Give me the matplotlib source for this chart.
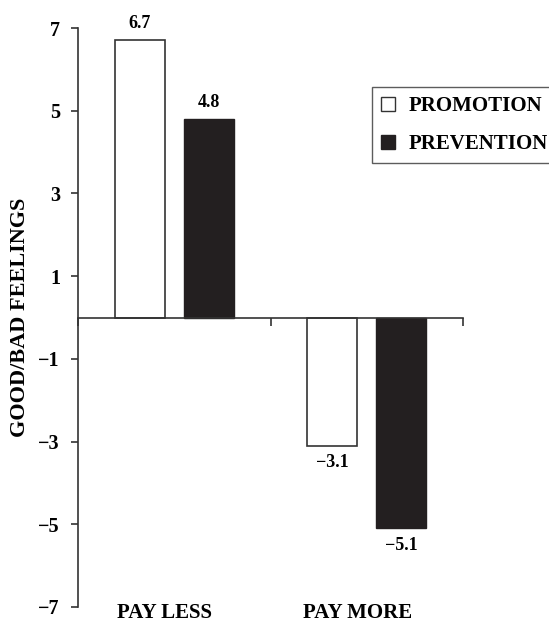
import matplotlib
matplotlib.use("Agg")
import matplotlib.pyplot as plt
from matplotlib.patches import Patch
import numpy as np

categories = ["PAY LESS", "PAY MORE"]
series_names = ["PROMOTION", "PREVENTION"]
promotion = [6.7, -3.1]
prevention = [4.8, -5.1]
yticks = [7, 5, 3, 1, -1, -3, -5, -7]
ylabel = "GOOD/BAD FEELINGS"

plt.rcParams['font.family'] = ['Liberation Serif', 'DejaVu Serif']
plt.rcParams['font.weight'] = 'bold'

fig = plt.figure(figsize=(5.49, 6.22), dpi=100)
ax = fig.add_axes([78/549, 1-607/622, (463-78)/549, (607-28)/622])

x = np.arange(len(categories))
w = 0.26
dark = '#231f20'
edge = '#333333'
b1 = ax.bar(x - 0.18, promotion, w, color='white', edgecolor=edge, linewidth=1.2)
b2 = ax.bar(x + 0.18, prevention, w, color=dark, edgecolor=dark, linewidth=1.0)

def fmt(v):
    s = f"{abs(v):.1f}"
    return ("\u2212" + s) if v < 0 else s

for bars, vals in ((b1, promotion), (b2, prevention)):
    for rect, v in zip(bars, vals):
        cx = rect.get_x() + rect.get_width() / 2
        if v >= 0:
            ax.annotate(fmt(v), (cx, v), xytext=(0, 6), textcoords='offset points',
                        ha='center', va='bottom', fontsize=13, fontweight='bold')
        else:
            ax.annotate(fmt(v), (cx, v), xytext=(0, -6), textcoords='offset points',
                        ha='center', va='top', fontsize=13, fontweight='bold')

ax.set_xlim(-0.5, 1.5)
ax.set_ylim(-7, 7)
ax.set_yticks(yticks)
ax.set_yticklabels([("\u2212" + str(abs(t))) if t < 0 else str(t) for t in yticks],
                   fontsize=14.5, fontweight='bold')
ax.tick_params(axis='y', direction='out', length=5, width=1.2, pad=8, color='#333333')

ax.spines['top'].set_visible(False)
ax.spines['right'].set_visible(False)
ax.spines['left'].set_linewidth(1.2)
ax.spines['left'].set_color('#333333')
ax.spines['bottom'].set_position(('data', 0))
ax.spines['bottom'].set_linewidth(1.2)
ax.spines['bottom'].set_color('#333333')
ax.set_xticks([-0.5, 0.5, 1.5])
ax.set_xticklabels([])
ax.tick_params(axis='x', direction='out', length=6, width=1.2, color='#333333')

for xi, c in zip(x, categories):
    ax.text(xi - 0.05, -7.15, c, ha='center', va='center', fontsize=15, fontweight='bold')

fig.text(20/549, 1-317/622, ylabel, rotation=90, ha='center', va='center',
         fontsize=16, fontweight='bold')

handles = [Patch(facecolor='white', edgecolor='#333333', linewidth=1.0),
           Patch(facecolor=dark, edgecolor=dark)]
leg = fig.legend(handles, series_names, loc='upper left',
                 bbox_to_anchor=(372/549, 1-87/622), frameon=True, fancybox=False,
                 prop={'family': 'Liberation Serif', 'weight': 'bold', 'size': 15},
                 handlelength=0.65, handleheight=0.65, handletextpad=0.65,
                 borderpad=0.45, labelspacing=0.85, borderaxespad=0)
leg.get_frame().set_edgecolor('#333333')
leg.get_frame().set_linewidth(1.0)

fig.savefig("out.png", dpi=100)
